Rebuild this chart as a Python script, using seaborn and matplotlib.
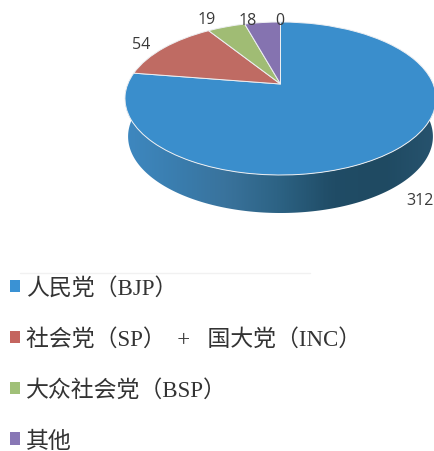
import numpy as np
import matplotlib
matplotlib.use("Agg")
import matplotlib.pyplot as plt
import seaborn as sns
from matplotlib.colors import LinearSegmentedColormap
from matplotlib.patches import Patch, Polygon
from matplotlib.transforms import Transform

# ---- data ----
slice_values = [312, 54, 19, 18, 0]
slice_labels = ["312", "54", "19", "18", "0"]
legend_labels = ["人民党（BJP）", "社会党（SP）  +   国大党（INC）", "大众社会党（BSP）", "其他"]
slice_colors = ["#3A8ECC", "#BF6B63", "#A0BC74", "#8573B0", "#8573B0"]
legend_colors = ["#3A92D4", "#C4655F", "#A0C078", "#8877B5"]
wall_colors = ["#3E88C0", "#3A7DAE", "#39729B", "#2C6283", "#204C66", "#1F4A62", "#27536E"]

sns.set_theme(style="white")
plt.rcParams["font.family"] = ["Liberation Serif", "Noto Sans CJK SC", "DejaVu Sans"]

W, H = 435, 452
fig = plt.figure(figsize=(W / 100, H / 100), dpi=100)
ax = fig.add_axes([0, 0, 1, 1])

CX, CY, A, B, K = 280.5, 85.0, 152.7, 73.75, 0.1896
DEPTH, WALL_SCALE = 38.0, 0.98


class Tilt(Transform):
    """Perspective view of the unit-circle pie onto the page."""
    input_dims = output_dims = 2
    is_separable = False
    has_inverse = False

    def transform_non_affine(self, values):
        v = np.asarray(values, dtype=float)
        s = 1 / (1 + K * v[:, 1])
        return np.column_stack([CX + A * v[:, 0] * s, CY - B * v[:, 1] * s])


tilt = Tilt()
wedges, _ = ax.pie(slice_values, colors=slice_colors, startangle=90, counterclock=False,
                   wedgeprops=dict(edgecolor="#EDEFF2", linewidth=0.7))
for w in wedges:
    w.set_transform(tilt + ax.transData)
    w.set_zorder(3)
    w.set_clip_on(False)

# side wall of the disc
t = np.linspace(np.deg2rad(172), np.deg2rad(368), 200)
rim = tilt.transform_non_affine(np.column_stack([np.cos(t), np.sin(t)]))
foot = rim.copy()
foot[:, 0] = CX + WALL_SCALE * (rim[:, 0] - CX)
foot[:, 1] = rim[:, 1] + DEPTH
wall = Polygon(np.vstack([rim, foot[::-1]]), closed=True, transform=ax.transData,
               facecolor="none", edgecolor="none")
ax.add_patch(wall)
cmap = LinearSegmentedColormap.from_list("wall", sns.blend_palette(wall_colors, 32))
img = ax.imshow(np.linspace(0, 1, 256)[None, :], cmap=cmap, aspect="auto",
                extent=(125, 436, 216, 90), zorder=2)
img.set_clip_path(wall)

ax.set_aspect("auto")
ax.set_xlim(0, W)
ax.set_ylim(H, 0)
ax.axis("off")

# value labels
label_xy = [(420, 201), (141, 45), (207, 20), (248, 21), (280, 21)]
for s, (x, y) in zip(slice_labels, label_xy):
    ax.text(x, y, s, ha="center", va="center", fontsize=11.5, color="#3A3A3A",
            family="Open Sans", zorder=5)

# faint rule above the legend
ax.plot([20, 310], [274, 274], color="#F1F1F1", lw=1, zorder=1)

handles = [Patch(facecolor=c, edgecolor="none") for c in legend_colors]
leg = ax.legend(handles, legend_labels, loc="upper left", bbox_to_anchor=(10 / W, 1 - 278 / H),
                bbox_transform=fig.transFigure, frameon=False, fontsize=16.5, borderaxespad=0,
                borderpad=0, handlelength=0.44, handleheight=0.44, handletextpad=0.25,
                labelspacing=1.28, labelcolor="#333333")

fig.savefig("out.png", dpi=100, facecolor="white")
